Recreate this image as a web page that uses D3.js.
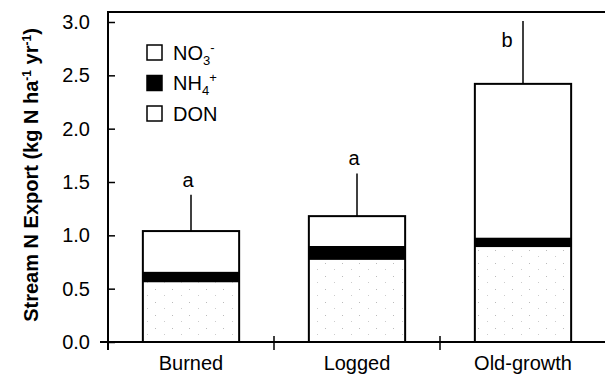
<!DOCTYPE html>
<html>
<head>
<meta charset="utf-8">
<script src="https://cdn.jsdelivr.net/npm/d3@7"></script>
<style>
  body { margin: 0; background: #fff; }
  text { font-family: "Liberation Sans", Arial, sans-serif; }
</style>
</head>
<body>
<script>
// values
let categories = ["Burned", "Logged", "Old-growth"];
let don = [0.56, 0.77, 0.89];
let nh4 = [0.10, 0.13, 0.09];
let no3 = [0.38, 0.28, 1.44];
let errTop = [1.38, 1.58, 3.01];
let letters = ["a", "a", "b"];
let yTicks = [0, 0.5, 1.0, 1.5, 2.0, 2.5, 3.0];

let width = 605;
let height = 384;

let rows = categories.map((c, i) => ({cat: c, DON: don[i], NH4: nh4[i], NO3: no3[i]}));
let series = d3.stack().keys(["DON", "NH4", "NO3"])(rows);

let svg = d3.select("body").append("svg")
  .attr("width", width)
  .attr("height", height);

// light stipple for DON
let pat = svg.append("defs").append("pattern")
  .attr("id", "stipple")
  .attr("patternUnits", "userSpaceOnUse")
  .attr("width", 17).attr("height", 13);
pat.append("rect").attr("width", 17).attr("height", 13).attr("fill", "#fff");
pat.append("rect").attr("x", 2).attr("y", 3).attr("width", 1).attr("height", 1).attr("fill", "#bbb");
pat.append("rect").attr("x", 11).attr("y", 9).attr("width", 1).attr("height", 1).attr("fill", "#ccc");

let x = d3.scaleBand().domain(categories).range([108, 606]);
let y = d3.scaleLinear().domain([0, 3]).range([342, 22]);
let barW = x.bandwidth() * 0.58;
let cx = d => x(d) + x.bandwidth() / 2;

let fills = {DON: "url(#stipple)", NH4: "#000", NO3: "#fff"};

// bars
svg.append("g").selectAll("g")
  .data(series)
  .join("g")
  .attr("fill", s => fills[s.key])
  .selectAll("rect")
  .data(s => s)
  .join("rect")
  .attr("x", d => cx(d.data.cat) - barW / 2)
  .attr("y", d => y(d[1]))
  .attr("width", barW)
  .attr("height", d => y(d[0]) - y(d[1]));

// outline of each bar
svg.append("g").selectAll("rect")
  .data(rows)
  .join("rect")
  .attr("x", d => cx(d.cat) - barW / 2)
  .attr("y", d => y(d.DON + d.NH4 + d.NO3))
  .attr("width", barW)
  .attr("height", d => y(0) - y(d.DON + d.NH4 + d.NO3))
  .attr("fill", "none")
  .attr("stroke", "#000")
  .attr("stroke-width", 2);

// error bars (upward only)
svg.append("g").selectAll("line")
  .data(rows)
  .join("line")
  .attr("x1", d => cx(d.cat))
  .attr("x2", d => cx(d.cat))
  .attr("y1", d => y(d.DON + d.NH4 + d.NO3))
  .attr("y2", (d, i) => y(errTop[i]))
  .attr("stroke", "#000")
  .attr("stroke-width", 1.5);

// significance letters
svg.append("g").selectAll("text")
  .data(categories)
  .join("text")
  .attr("x", (d, i) => errTop[i] > 2.8 ? cx(d) - 16 : cx(d) - 3)
  .attr("y", (d, i) => errTop[i] > 2.8 ? y(errTop[i]) + 26 : y(errTop[i]) - 8)
  .attr("text-anchor", "middle")
  .attr("font-size", 20)
  .text((d, i) => letters[i]);

// y axis
let yAxis = svg.append("g")
  .attr("transform", "translate(108,0)")
  .call(d3.axisLeft(y).tickValues(yTicks).tickFormat(d3.format(".1f")).tickSize(7).tickPadding(11));
yAxis.select(".domain").remove();
yAxis.selectAll(".tick line").attr("x2", 7).attr("stroke-width", 1.5);
yAxis.selectAll(".tick text").attr("font-size", 20).attr("font-family", "Liberation Sans, Arial, sans-serif");

// x axis
let xAxis = svg.append("g")
  .attr("transform", "translate(0,342)")
  .call(d3.axisBottom(x).tickSize(0).tickPadding(14));
xAxis.select(".domain").remove();
xAxis.selectAll(".tick text").attr("font-size", 20).attr("font-family", "Liberation Sans, Arial, sans-serif");

// x separators
svg.append("g").selectAll("line")
  .data(categories)
  .join("line")
  .attr("x1", d => x(d) + x.bandwidth())
  .attr("x2", d => x(d) + x.bandwidth())
  .attr("y1", 336)
  .attr("y2", 350)
  .attr("stroke", "#000")
  .attr("stroke-width", 1.5);

// frame lines: left, top, bottom
svg.append("line").attr("x1", 108).attr("x2", 108).attr("y1", 12).attr("y2", 350)
  .attr("stroke", "#000").attr("stroke-width", 2);
svg.append("line").attr("x1", 107).attr("x2", 605).attr("y1", 12).attr("y2", 12)
  .attr("stroke", "#000").attr("stroke-width", 2);
svg.append("line").attr("x1", 100).attr("x2", 605).attr("y1", 342).attr("y2", 342)
  .attr("stroke", "#000").attr("stroke-width", 2);

// y label
let yl = svg.append("text")
  .attr("transform", "translate(38,175) rotate(-90)")
  .attr("text-anchor", "middle")
  .attr("font-size", 20)
  .attr("font-weight", "bold");
yl.append("tspan").text("Stream N Export (kg N ha");
yl.append("tspan").attr("dy", -7).attr("font-size", 12).text("-1");
yl.append("tspan").attr("dy", 7).text(" yr");
yl.append("tspan").attr("dy", -7).attr("font-size", 12).text("-1");
yl.append("tspan").attr("dy", 7).text(")");

// legend
let legend = [
  {key: "NO3", base: "NO", sub: "3", sup: "-"},
  {key: "NH4", base: "NH", sub: "4", sup: "+"},
  {key: "DON", base: "DON", sub: "", sup: ""}
];
let lg = svg.append("g").selectAll("g")
  .data(legend)
  .join("g")
  .attr("transform", (d, i) => `translate(147,${45 + i * 30.5})`);
lg.append("rect")
  .attr("width", 15).attr("height", 15)
  .attr("fill", d => d.key == "NH4" ? "#000" : "#fff")
  .attr("stroke", "#000")
  .attr("stroke-width", 1.5);
let lt = lg.append("text")
  .attr("x", 26).attr("y", 14.5)
  .attr("font-size", 20);
lt.append("tspan").text(d => d.base);
lt.append("tspan").attr("dy", 5).attr("font-size", 13).text(d => d.sub);
lt.append("tspan").attr("dy", -13).attr("font-size", 13).text(d => d.sup);
</script>
</body>
</html>
